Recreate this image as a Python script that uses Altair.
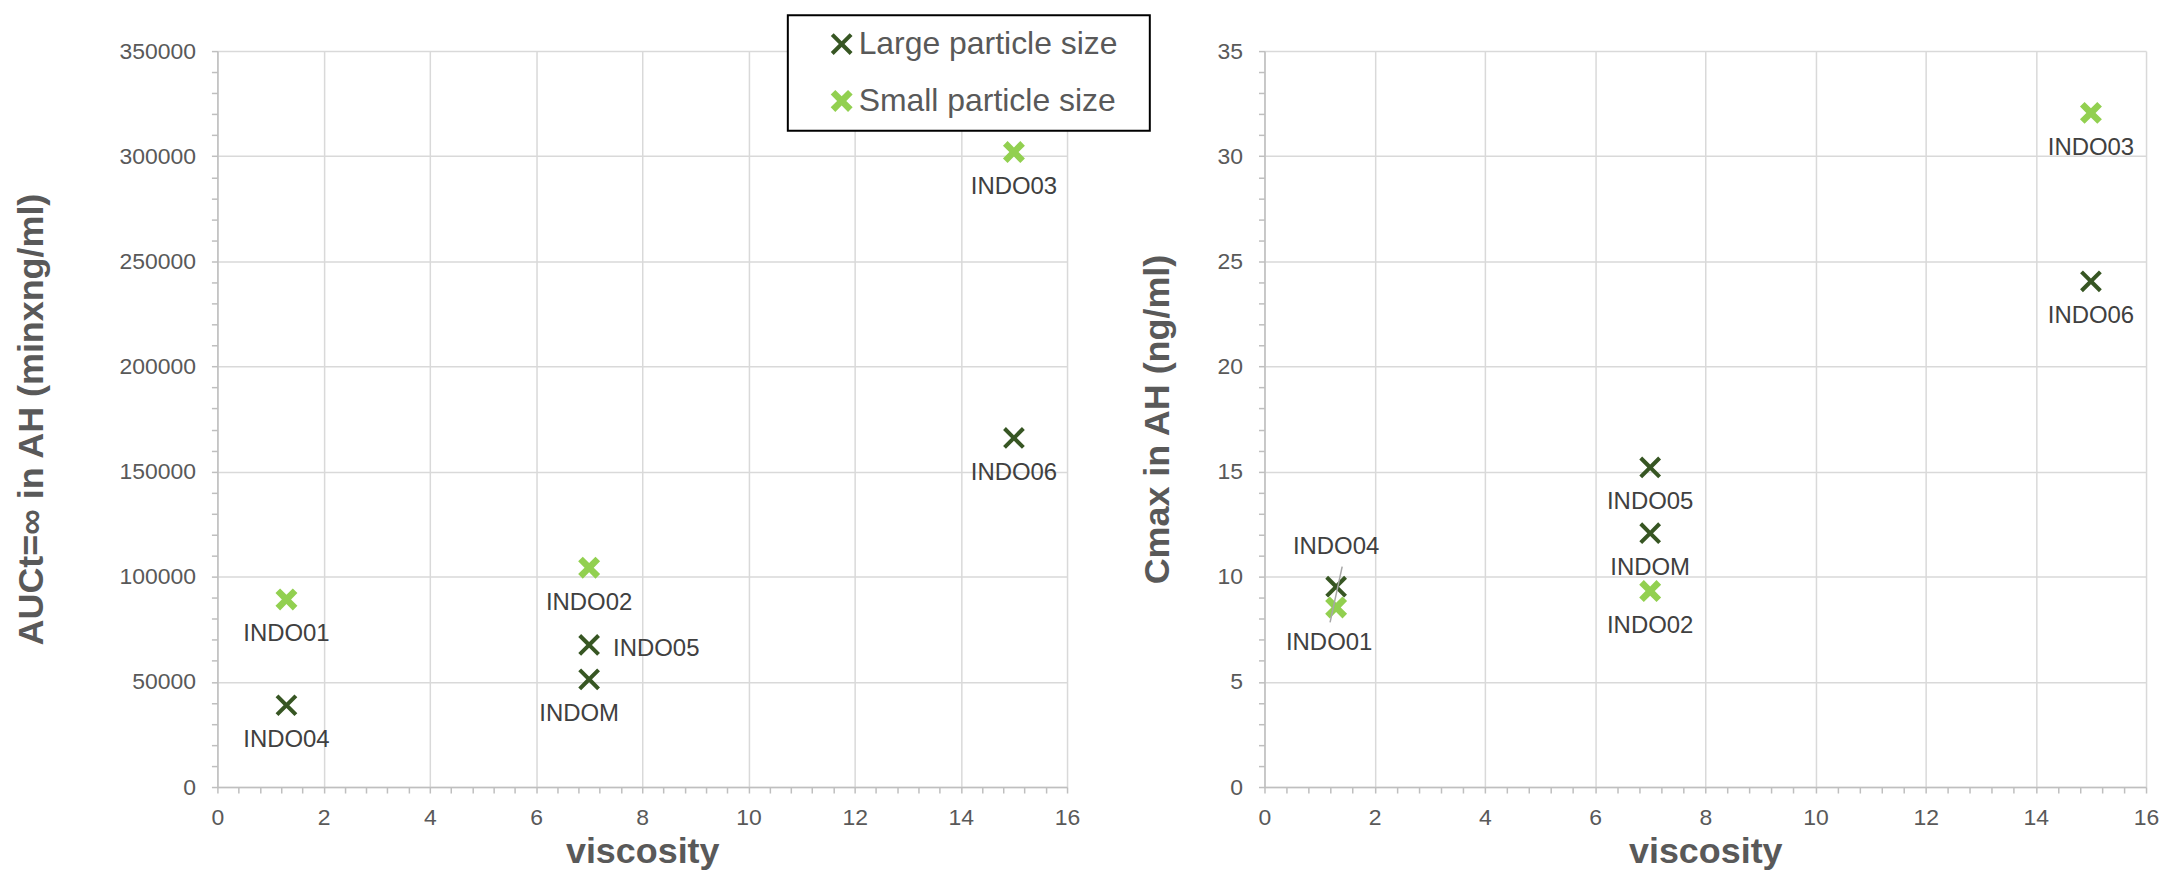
import altair as alt
import pandas as pd

# ---------------- data ----------------
labels = ["INDO01", "INDO02", "INDO03", "INDO04", "INDO05", "INDO06", "INDOM"]
series = ["Small particle size", "Small particle size", "Small particle size",
          "Large particle size", "Large particle size", "Large particle size",
          "Large particle size"]
viscosity = [1.3, 7, 15, 1.3, 7, 15, 7]
auc = [89200, 104300, 302000, 38900, 67600, 166000, 51200]      # AUCt=inf in AH
cmax = [8.54, 9.32, 32.06, 9.53, 15.2, 24.05, 12.07]             # Cmax in AH

# leader line between INDO04 / INDO01 labels (right chart, data units)
leader_x1 = [1.41]
leader_y1 = [10.48]
leader_x2 = [1.19]
leader_y2 = [7.83]

series_domain = ["Large particle size", "Small particle size"]

df = pd.DataFrame({"label": labels, "series": series, "viscosity": viscosity,
                   "auc": auc, "cmax": cmax})
leader_df = pd.DataFrame({"viscosity": leader_x1, "cmax": leader_y1,
                          "x2": leader_x2, "y2": leader_y2})
box_df = pd.DataFrame({"k": [0]})

# ---------------- styles ----------------
FONT = "Liberation Sans"
DARK = "#375623"
LIGHT = "#92D050"
AXIS_GRAY = "#BFBFBF"
GRID_GRAY = "#D9D9D9"
TEXT_GRAY = "#595959"
LABEL_GRAY = "#404040"
MSIZE = 484
LBL = 24


def x_path(k, a):
    pts = [(2 * a, 0), (k + a, k - a), (k - a, k + a), (0, 2 * a), (-k + a, k + a),
           (-k - a, k - a), (-2 * a, 0), (-k - a, -k + a), (-k + a, -k - a), (0, -2 * a),
           (k - a, -k - a), (k + a, -k + a)]
    return "M" + "L".join(f"{x:.3f},{y:.3f}" for x, y in pts) + "Z"


DARK_PATH = x_path(0.86, 0.13)
LIGHT_PATH = x_path(0.79, 0.21)

x_ticks = [round(i * 0.4, 1) for i in range(41)]
MAJ_X = "abs(datum.value/2 - round(datum.value/2)) < 0.001"


def axis_common():
    return dict(
        labelFont=FONT, labelFontSize=23, labelColor=TEXT_GRAY,
        titleFont=FONT, titleFontSize=36, titleFontWeight="bold", titleColor=TEXT_GRAY,
        domainColor=AXIS_GRAY, domainWidth=1.5, tickColor=AXIS_GRAY, tickWidth=1.5,
        tickSize=6, gridColor=GRID_GRAY, gridWidth=1.5, labelOverlap=False,
    )


def x_axis():
    return alt.Axis(title="viscosity", values=x_ticks,
                    labelExpr=f"{MAJ_X} ? format(round(datum.value), 'd') : ''",
                    gridOpacity={"condition": {"test": MAJ_X, "value": 1}, "value": 0},
                    labelFlush=False, labelPadding=14, titlePadding=5, **axis_common())


def y_axis(title, step_minor, n_minor, major, tpad):
    test = f"datum.value % {major} == 0"
    return alt.Axis(title=title, values=[i * step_minor for i in range(n_minor + 1)],
                    labelExpr=f"{test} ? format(datum.value, 'd') : ''",
                    gridOpacity={"condition": {"test": test, "value": 1}, "value": 0},
                    labelPadding=16, titlePadding=tpad, **axis_common())


legend_left = alt.Legend(orient="none", legendX=610, legendY=-23, title=None,
                         labelFont=FONT, labelFontSize=32, labelColor=TEXT_GRAY,
                         labelLimit=600,
                         symbolSize=MSIZE, symbolStrokeWidth=0, symbolOpacity=1,
                         rowPadding=25, labelOffset=1, padding=0, direction="vertical")


def panel(yfield, ytitle, ymax, step_minor, major, tpad, width, legend, styles, with_leader=False):
    xe = alt.X("viscosity:Q", scale=alt.Scale(domain=[0, 16], nice=False), axis=x_axis())
    ye = alt.Y(f"{yfield}:Q", scale=alt.Scale(domain=[0, ymax], nice=False),
               axis=y_axis(ytitle, step_minor, int(round(ymax / step_minor)), major, tpad))
    base = alt.Chart(df).encode(x=xe, y=ye)
    pts = base.mark_point(filled=True, size=MSIZE, opacity=1).encode(
        color=alt.Color("series:N", scale=alt.Scale(domain=series_domain, range=[DARK, LIGHT]),
                        legend=legend),
        shape=alt.Shape("series:N", scale=alt.Scale(domain=series_domain,
                                                    range=[DARK_PATH, LIGHT_PATH]),
                        legend=legend),
    )
    special = list(styles.keys())
    lst = ",".join(f"'{s}'" for s in special)
    layers = []
    default_txt = base.mark_text(font=FONT, fontSize=LBL, color=LABEL_GRAY, baseline="middle",
                                 align="center", dy=35).encode(text="label:N")
    if special:
        default_txt = default_txt.transform_filter(f"indexof([{lst}], datum.label) < 0")
    layers.append(default_txt)
    for name, st in styles.items():
        layers.append(base.mark_text(font=FONT, fontSize=LBL, color=LABEL_GRAY, baseline="middle",
                                     **st).encode(text="label:N")
                      .transform_filter(f"datum.label == '{name}'"))
    all_layers = []
    if legend is not None:
        box = alt.Chart(box_df).mark_rect(fill="white", stroke="black", strokeWidth=2).encode(
            x=alt.value(572), x2=alt.value(935), y=alt.value(-36), y2=alt.value(80))
        all_layers.append(box)
    all_layers.append(pts)
    if with_leader:
        leader = alt.Chart(leader_df).mark_rule(color="#A6A6A6", strokeWidth=1.5).encode(
            x=xe, y=ye, x2="x2:Q", y2="y2:Q")
        all_layers.append(leader)
    all_layers += layers
    return alt.layer(*all_layers).properties(width=width, height=738)


left = panel("auc", "AUCt=∞ in AH (minxng/ml)", 350000, 10000, 50000, 69, 852, legend_left,
             {"INDOM": dict(align="center", dx=-10, dy=35),
              "INDO05": dict(align="left", dx=24, dy=4)})

right = panel("cmax", "Cmax in AH (ng/ml)", 35, 1, 5, 41, 884, None,
              {"INDO04": dict(align="center", dx=0, dy=-40),
               "INDO01": dict(align="center", dx=-7, dy=36)}, with_leader=True)

chart = alt.hconcat(left, right, spacing=198, bounds="flush").resolve_legend(
    color="independent", shape="independent"
).properties(
    padding={"left": 5, "top": 5, "right": 0, "bottom": 0}, background="white"
).configure_view(stroke=None)

chart.save("out.html", embed_options={"renderer": "svg", "actions": False})
